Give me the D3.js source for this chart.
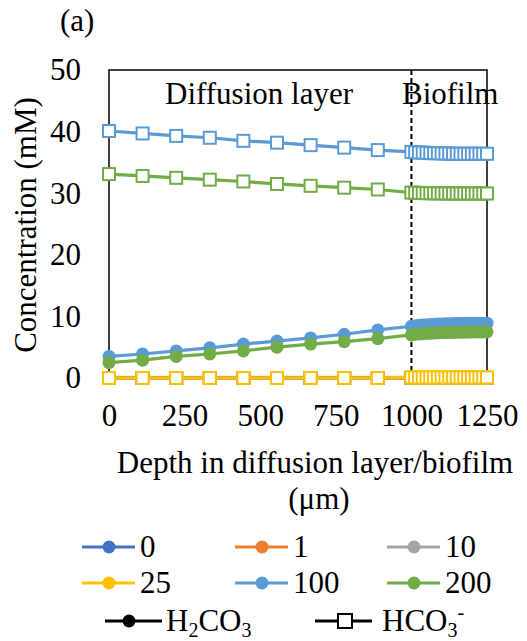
<!DOCTYPE html>
<html>
<head>
<meta charset="utf-8">
<script src="https://cdn.jsdelivr.net/npm/d3@7"></script>
<style>
  body { margin: 0; background: #fff; }
</style>
</head>
<body>
<svg id="chart" width="527" height="641" font-family="Liberation Serif"></svg>
<script>
// depth (µm): 10 points in the diffusion layer, 20 more in the biofilm
var depth = [0, 111.1, 222.2, 333.3, 444.4, 555.6, 666.7, 777.8, 888.9, 1000,
  1012.5, 1025, 1037.5, 1050, 1062.5, 1075, 1087.5, 1100, 1112.5, 1125,
  1137.5, 1150, 1162.5, 1175, 1187.5, 1200, 1212.5, 1225, 1237.5, 1250];

var seriesNames = ['0', '1', '10', '25', '100', '200'];
var seriesColors = ['#4472C4', '#ED7D31', '#A5A5A5', '#FFC000', '#5B9BD5', '#70AD47'];

// H2CO3 (circles)
var h2co3_0 = [0,0,0,0,0,0,0,0,0,0, 0,0,0,0,0,0,0,0,0,0, 0,0,0,0,0,0,0,0,0,0];
var h2co3_1 = [0,0,0,0,0,0,0,0,0,0, 0,0,0,0,0,0,0,0,0,0, 0,0,0,0,0,0,0,0,0,0];
var h2co3_10 = [0,0,0,0,0,0,0,0,0,0, 0,0,0,0,0,0,0,0,0,0, 0,0,0,0,0,0,0,0,0,0];
var h2co3_25 = [0.1,0.1,0.1,0.1,0.1,0.1,0.1,0.1,0.1,0.1, 0.1,0.1,0.1,0.1,0.1,0.1,0.1,0.1,0.1,0.1, 0.1,0.1,0.1,0.1,0.1,0.1,0.1,0.1,0.1,0.1];
var h2co3_100 = [3.5, 3.9, 4.4, 4.9, 5.5, 6.0, 6.5, 7.1, 7.8, 8.4,
  8.5, 8.55, 8.6, 8.65, 8.7, 8.72, 8.75, 8.78, 8.8, 8.82,
  8.84, 8.85, 8.86, 8.87, 8.88, 8.89, 8.9, 8.9, 8.9, 8.9];
var h2co3_200 = [2.5, 2.9, 3.5, 3.9, 4.4, 5.0, 5.5, 5.9, 6.4, 7.0,
  7.1, 7.15, 7.2, 7.25, 7.28, 7.3, 7.33, 7.35, 7.37, 7.39,
  7.4, 7.42, 7.43, 7.44, 7.45, 7.46, 7.47, 7.47, 7.48, 7.48];

// HCO3- (squares)
var hco3_0 = [0,0,0,0,0,0,0,0,0,0, 0,0,0,0,0,0,0,0,0,0, 0,0,0,0,0,0,0,0,0,0];
var hco3_1 = [0,0,0,0,0,0,0,0,0,0, 0,0,0,0,0,0,0,0,0,0, 0,0,0,0,0,0,0,0,0,0];
var hco3_10 = [0,0,0,0,0,0,0,0,0,0, 0,0,0,0,0,0,0,0,0,0, 0,0,0,0,0,0,0,0,0,0];
var hco3_25 = [0,0,0,0,0,0,0,0,0,0.1, 0.1,0.1,0.1,0.1,0.1,0.1,0.1,0.1,0.1,0.1, 0.1,0.1,0.1,0.1,0.1,0.1,0.1,0.1,0.1,0.1];
var hco3_100 = [40.1, 39.7, 39.3, 39.0, 38.5, 38.2, 37.8, 37.4, 37.0, 36.7,
  36.65, 36.6, 36.6, 36.55, 36.5, 36.5, 36.5, 36.45, 36.45, 36.45,
  36.4, 36.4, 36.4, 36.4, 36.4, 36.4, 36.4, 36.4, 36.4, 36.4];
var hco3_200 = [33.1, 32.8, 32.5, 32.2, 31.9, 31.5, 31.2, 30.9, 30.6, 30.1,
  30.08, 30.05, 30.03, 30.0, 30.0, 30.0, 29.98, 29.98, 29.97, 29.97,
  29.96, 29.96, 29.95, 29.95, 29.95, 29.95, 29.95, 29.95, 29.95, 29.95];

var xTicks = [0, 250, 500, 750, 1000, 1250];
var yTicks = [0, 10, 20, 30, 40, 50];

var svg = d3.select('#chart');
var FS = 31;
var FONT = 'Liberation Serif';

var x = d3.scaleLinear().domain([0, 1250]).range([109, 487]);
var y = d3.scaleLinear().domain([0, 50]).range([378, 70]);

function serif(sel){
  return sel.attr('font-family', FONT).attr('font-size', FS).attr('fill', '#000');
}

// frame
svg.append('rect')
  .attr('x', x(0)).attr('y', y(50))
  .attr('width', x(1250) - x(0)).attr('height', y(0) - y(50))
  .attr('fill', 'none').attr('stroke', '#000').attr('stroke-width', 1.5);

// boundary between diffusion layer and biofilm
svg.append('line')
  .attr('x1', x(1000)).attr('x2', x(1000))
  .attr('y1', y(50)).attr('y2', y(0) + 2)
  .attr('stroke', '#000').attr('stroke-width', 2)
  .attr('stroke-dasharray', '5,3');

// axes
var yAxis = svg.append('g')
  .attr('transform', 'translate(' + x(0) + ',0)')
  .call(d3.axisLeft(y).tickValues(yTicks).tickFormat(d3.format('d')).tickSize(0).tickPadding(28));
var xAxis = svg.append('g')
  .attr('transform', 'translate(0,' + y(0) + ')')
  .call(d3.axisBottom(x).tickValues(xTicks).tickFormat(d3.format('d')).tickSize(0).tickPadding(26));
[xAxis, yAxis].forEach(function(ax){
  ax.attr('font-family', FONT).attr('font-size', FS);
  ax.select('.domain').remove();
  ax.selectAll('.tick text').each(function(){
    var t = d3.select(this), s = t.text();
    t.text('');
    serif(t).append('tspan').text(s);
  });
});

var line = d3.line()
  .x(function(d, i){ return x(depth[i]); })
  .y(function(d){ return y(d); });

var circleSeries = [h2co3_0, h2co3_1, h2co3_10, h2co3_25, h2co3_100, h2co3_200];
var squareSeries = [hco3_0, hco3_1, hco3_10, hco3_25, hco3_100, hco3_200];

function drawSeries(values, color, shape){
  var g = svg.append('g');
  g.append('path')
    .datum(values)
    .attr('d', line)
    .attr('fill', 'none')
    .attr('stroke', color)
    .attr('stroke-width', 3.2);
  if (shape === 'circle') {
    g.selectAll('circle')
      .data(values)
      .enter().append('circle')
      .attr('cx', function(d, i){ return x(depth[i]); })
      .attr('cy', function(d){ return y(d); })
      .attr('r', 6.5)
      .attr('fill', color);
  } else {
    g.selectAll('rect')
      .data(values)
      .enter().append('rect')
      .attr('x', function(d, i){ return x(depth[i]) - 6; })
      .attr('y', function(d){ return y(d) - 6; })
      .attr('width', 12).attr('height', 12)
      .attr('fill', '#fff')
      .attr('stroke', color)
      .attr('stroke-width', 2);
  }
}

circleSeries.forEach(function(s, i){ drawSeries(s, seriesColors[i], 'circle'); });
squareSeries.forEach(function(s, i){ drawSeries(s, seriesColors[i], 'square'); });

function label(xp, yp, str, anchor){
  var t = serif(svg.append('text'))
    .attr('x', xp).attr('y', yp)
    .attr('text-anchor', anchor || 'start');
  if (str) t.append('tspan').text(str);
  return t;
}

// labels inside plot
label(165, 104, 'Diffusion layer');
label(402, 104, 'Biofilm');
label(60, 31, '(a)');

// axis titles
serif(svg.append('text'))
  .attr('transform', 'translate(36,' + 225 + ') rotate(-90)')
  .attr('text-anchor', 'middle')
  .append('tspan').text('Concentration (mM)');
label(315, 473, 'Depth in diffusion layer/biofilm', 'middle');
label(319, 509, '(\u03bcm)', 'middle');

// legend: concentration series
var legendX = [82, 235, 387];
var legendY = [547, 583];
var leg = svg.append('g');
seriesNames.forEach(function(name, i){
  var lx = legendX[i % 3], ly = legendY[Math.floor(i / 3)];
  leg.append('line').attr('x1', lx).attr('x2', lx + 53).attr('y1', ly).attr('y2', ly)
    .attr('stroke', seriesColors[i]).attr('stroke-width', 3.2);
  leg.append('circle').attr('cx', lx + 27).attr('cy', ly).attr('r', 6.5).attr('fill', seriesColors[i]);
  label(lx + 58, ly + 10, name);
});

// legend: species
var ly3 = 621;
leg.append('line').attr('x1', 105).attr('x2', 162).attr('y1', ly3).attr('y2', ly3)
  .attr('stroke', '#000').attr('stroke-width', 3.2);
leg.append('circle').attr('cx', 129).attr('cy', ly3).attr('r', 6.5).attr('fill', '#000');
var t1 = label(166, ly3 + 10, '');
t1.append('tspan').text('H');
t1.append('tspan').attr('dy', 6).attr('font-size', 20).text('2');
t1.append('tspan').attr('dy', -6).text('CO');
t1.append('tspan').attr('dy', 6).attr('font-size', 20).text('3');

leg.append('line').attr('x1', 315).attr('x2', 372).attr('y1', ly3).attr('y2', ly3)
  .attr('stroke', '#000').attr('stroke-width', 3.2);
leg.append('rect').attr('x', 338).attr('y', ly3 - 7).attr('width', 14).attr('height', 14)
  .attr('fill', '#fff').attr('stroke', '#000').attr('stroke-width', 2);
var t2 = label(382, ly3 + 10, '');
t2.append('tspan').text('HCO');
t2.append('tspan').attr('dy', 6).attr('font-size', 20).text('3');
t2.append('tspan').attr('dy', -18).attr('font-size', 20).text('-');
</script>
</body>
</html>
